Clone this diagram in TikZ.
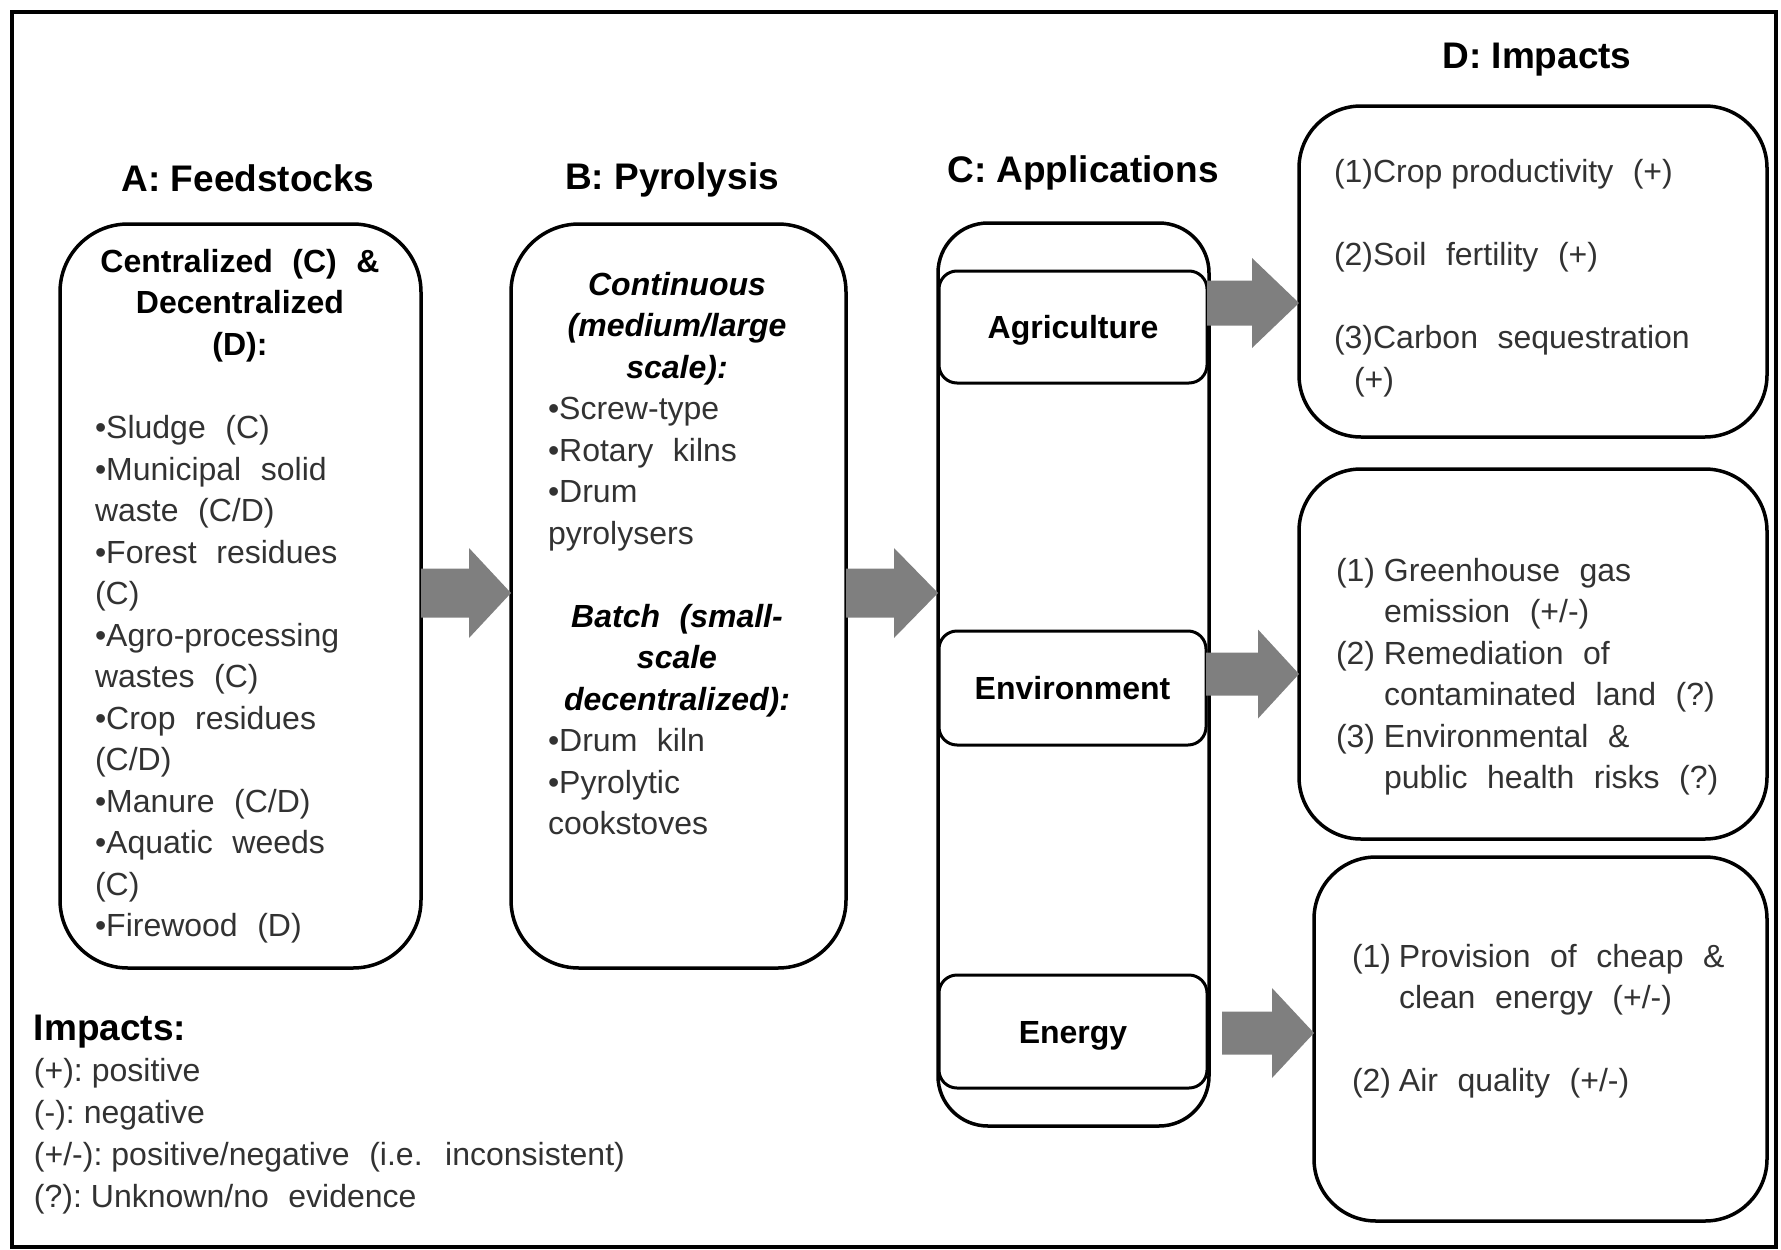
\documentclass[tikz,border=0pt]{standalone}
\usepackage{fontspec}
\setmainfont{Liberation Sans}[WordSpace=2.2]
\newfontfamily\titlefont{Liberation Sans}
\usetikzlibrary{calc}
\definecolor{arrowgray}{RGB}{127,127,127}
\definecolor{txt}{RGB}{50,50,50}
\newcommand{\blockarrow}[6]{%
  \fill[arrowgray] (#1 |- 0,#4-#5) -- (#3,#4-#5) -- (#3,#4-#6) -- (#2 |- 0,#4)
    -- (#3,#4+#6) -- (#3,#4+#5) -- (#1 |- 0,#4+#5) -- cycle;}
\newcommand{\nsp}{\hspace{9pt}}
\tikzset{
  box/.style={draw=black, line width=3.5pt, rounded corners=#1, inner sep=0pt, outer sep=0pt, anchor=north west},
  ibox/.style={draw=black, line width=3pt, rounded corners=18pt, inner sep=0pt, outer sep=0pt, anchor=north west,
    font=\bfseries\fontsize{32}{38}\selectfont, text height=23pt, text depth=0pt},
  body/.style={inner sep=0pt, outer sep=0pt, font=\fontsize{32}{41.5}\selectfont, text=txt, align=left, anchor=north west},
  hdr/.style={inner sep=0pt, outer sep=0pt, font=\bfseries\fontsize{32}{41.5}\selectfont, text=black, align=center, anchor=north},
  hdri/.style={hdr, font=\bfseries\itshape\fontsize{32}{41.5}\selectfont},
  title/.style={inner sep=0pt, outer sep=0pt, font=\titlefont\bfseries\fontsize{37}{44}\selectfont, anchor=base}
}
\begin{document}
\begin{tikzpicture}[x=1pt,y=-1pt]
\useasboundingbox (0,0) rectangle (1781,1250);
\draw[line width=4pt] (12,12) rectangle (1776,1247);

% titles
\node[title] (tA) at (248,191) {A: Feedstocks};
\node[title] (tB) at (672,189) {B: Pyrolysis};
\node[title] (tC) at (1083,182.5) {C: Applications};
\node[title] (tD) at (1537,68.5) {D: Impacts};

% boxes
\node[box=68pt, minimum width=361pt, minimum height=744pt] (A) at (60,224) {};
\node[box=68pt, minimum width=335pt, minimum height=744pt] (B) at (511,224) {};
\node[box=50pt, minimum width=271pt, minimum height=903pt] (C) at (938,223) {};
\node[ibox, minimum width=268pt, minimum height=112pt] (Ag) at (939,271) {Agriculture};
\node[ibox, minimum width=267pt, minimum height=114pt] (En) at (939,631) {Environment};
\node[ibox, minimum width=268pt, minimum height=113pt] (Eg) at (939,975) {Energy};
\node[box=62pt, minimum width=468pt, minimum height=331pt] (D1) at (1299,106) {};
\node[box=62pt, minimum width=468pt, minimum height=370pt] (D2) at (1299,469) {};
\node[box=62pt, minimum width=453pt, minimum height=364pt] (D3) at (1314,857) {};

% box A text
\node[hdr] (Ah) at (240,243) {\strut Centralized (C) \&\\Decentralized\\(D):};
\node[body] (Al) at (95,409.5) {\strut •Sludge (C)\\•Municipal solid\\waste (C/D)\\•Forest residues\\(C)\\•Agro-processing\\wastes (C)\\•Crop residues\\(C/D)\\•Manure (C/D)\\•Aquatic weeds\\(C)\\•Firewood (D)};

% box B text
\node[hdri] (Bh1) at (677,266) {\strut Continuous\\(medium/large\\scale):};
\node[body] (Bl1) at (548,390.5) {\strut •Screw-type\\•Rotary kilns\\•Drum\\pyrolysers};
\node[hdri] (Bh2) at (677,598) {\strut Batch (small-\\scale\\decentralized):};
\node[body] (Bl2) at (548,722.5) {\strut •Drum kiln\\•Pyrolytic\\cookstoves};

% D texts
\node[body] (D1t) at (1334,153.5) {\strut (1)Crop\nsp productivity (+)\\\strut\\(2)Soil fertility (+)\\\strut\\(3)Carbon sequestration\\\hspace*{20pt}(+)};
\node[body] (D2t) at (1336,552) {\strut\makebox[48pt][l]{(1)}Greenhouse gas\\\hspace*{48pt}emission (+/-)\\\makebox[48pt][l]{(2)}Remediation of\\\hspace*{48pt}contaminated land (?)\\\makebox[48pt][l]{(3)}Environmental \&\\\hspace*{48pt}public health risks (?)};
\node[body] (D3t) at (1352,938) {\strut\makebox[47pt][l]{(1)}Provision of cheap \&\\\hspace*{47pt}clean energy (+/-)\\\strut\\\makebox[47pt][l]{(2)}Air quality (+/-)};

% legend
\node[title, anchor=base west] (Lh) at (34,1040) {Impacts:};
\node[body, font=\fontsize{32}{42}\selectfont] (Ll) at (34,1052) {\strut (+):\nsp positive\\(-):\nsp negative\\(+/-):\nsp positive/negative (i.e. inconsistent)\\(?):\nsp Unknown/no evidence};

% arrows
\coordinate (e0) at (1222,1033);
\blockarrow{A.east}{B.west}{469}{593}{24.5}{45}
\blockarrow{B.east}{C.west}{894}{593}{24.5}{45}
\blockarrow{Ag.east}{D1.west}{1252}{303}{22.5}{45}
\blockarrow{En.east}{D2.west}{1258}{674}{21.5}{44.5}
\blockarrow{e0}{D3.west}{1272}{1033}{21.5}{45}
\end{tikzpicture}
\end{document}
